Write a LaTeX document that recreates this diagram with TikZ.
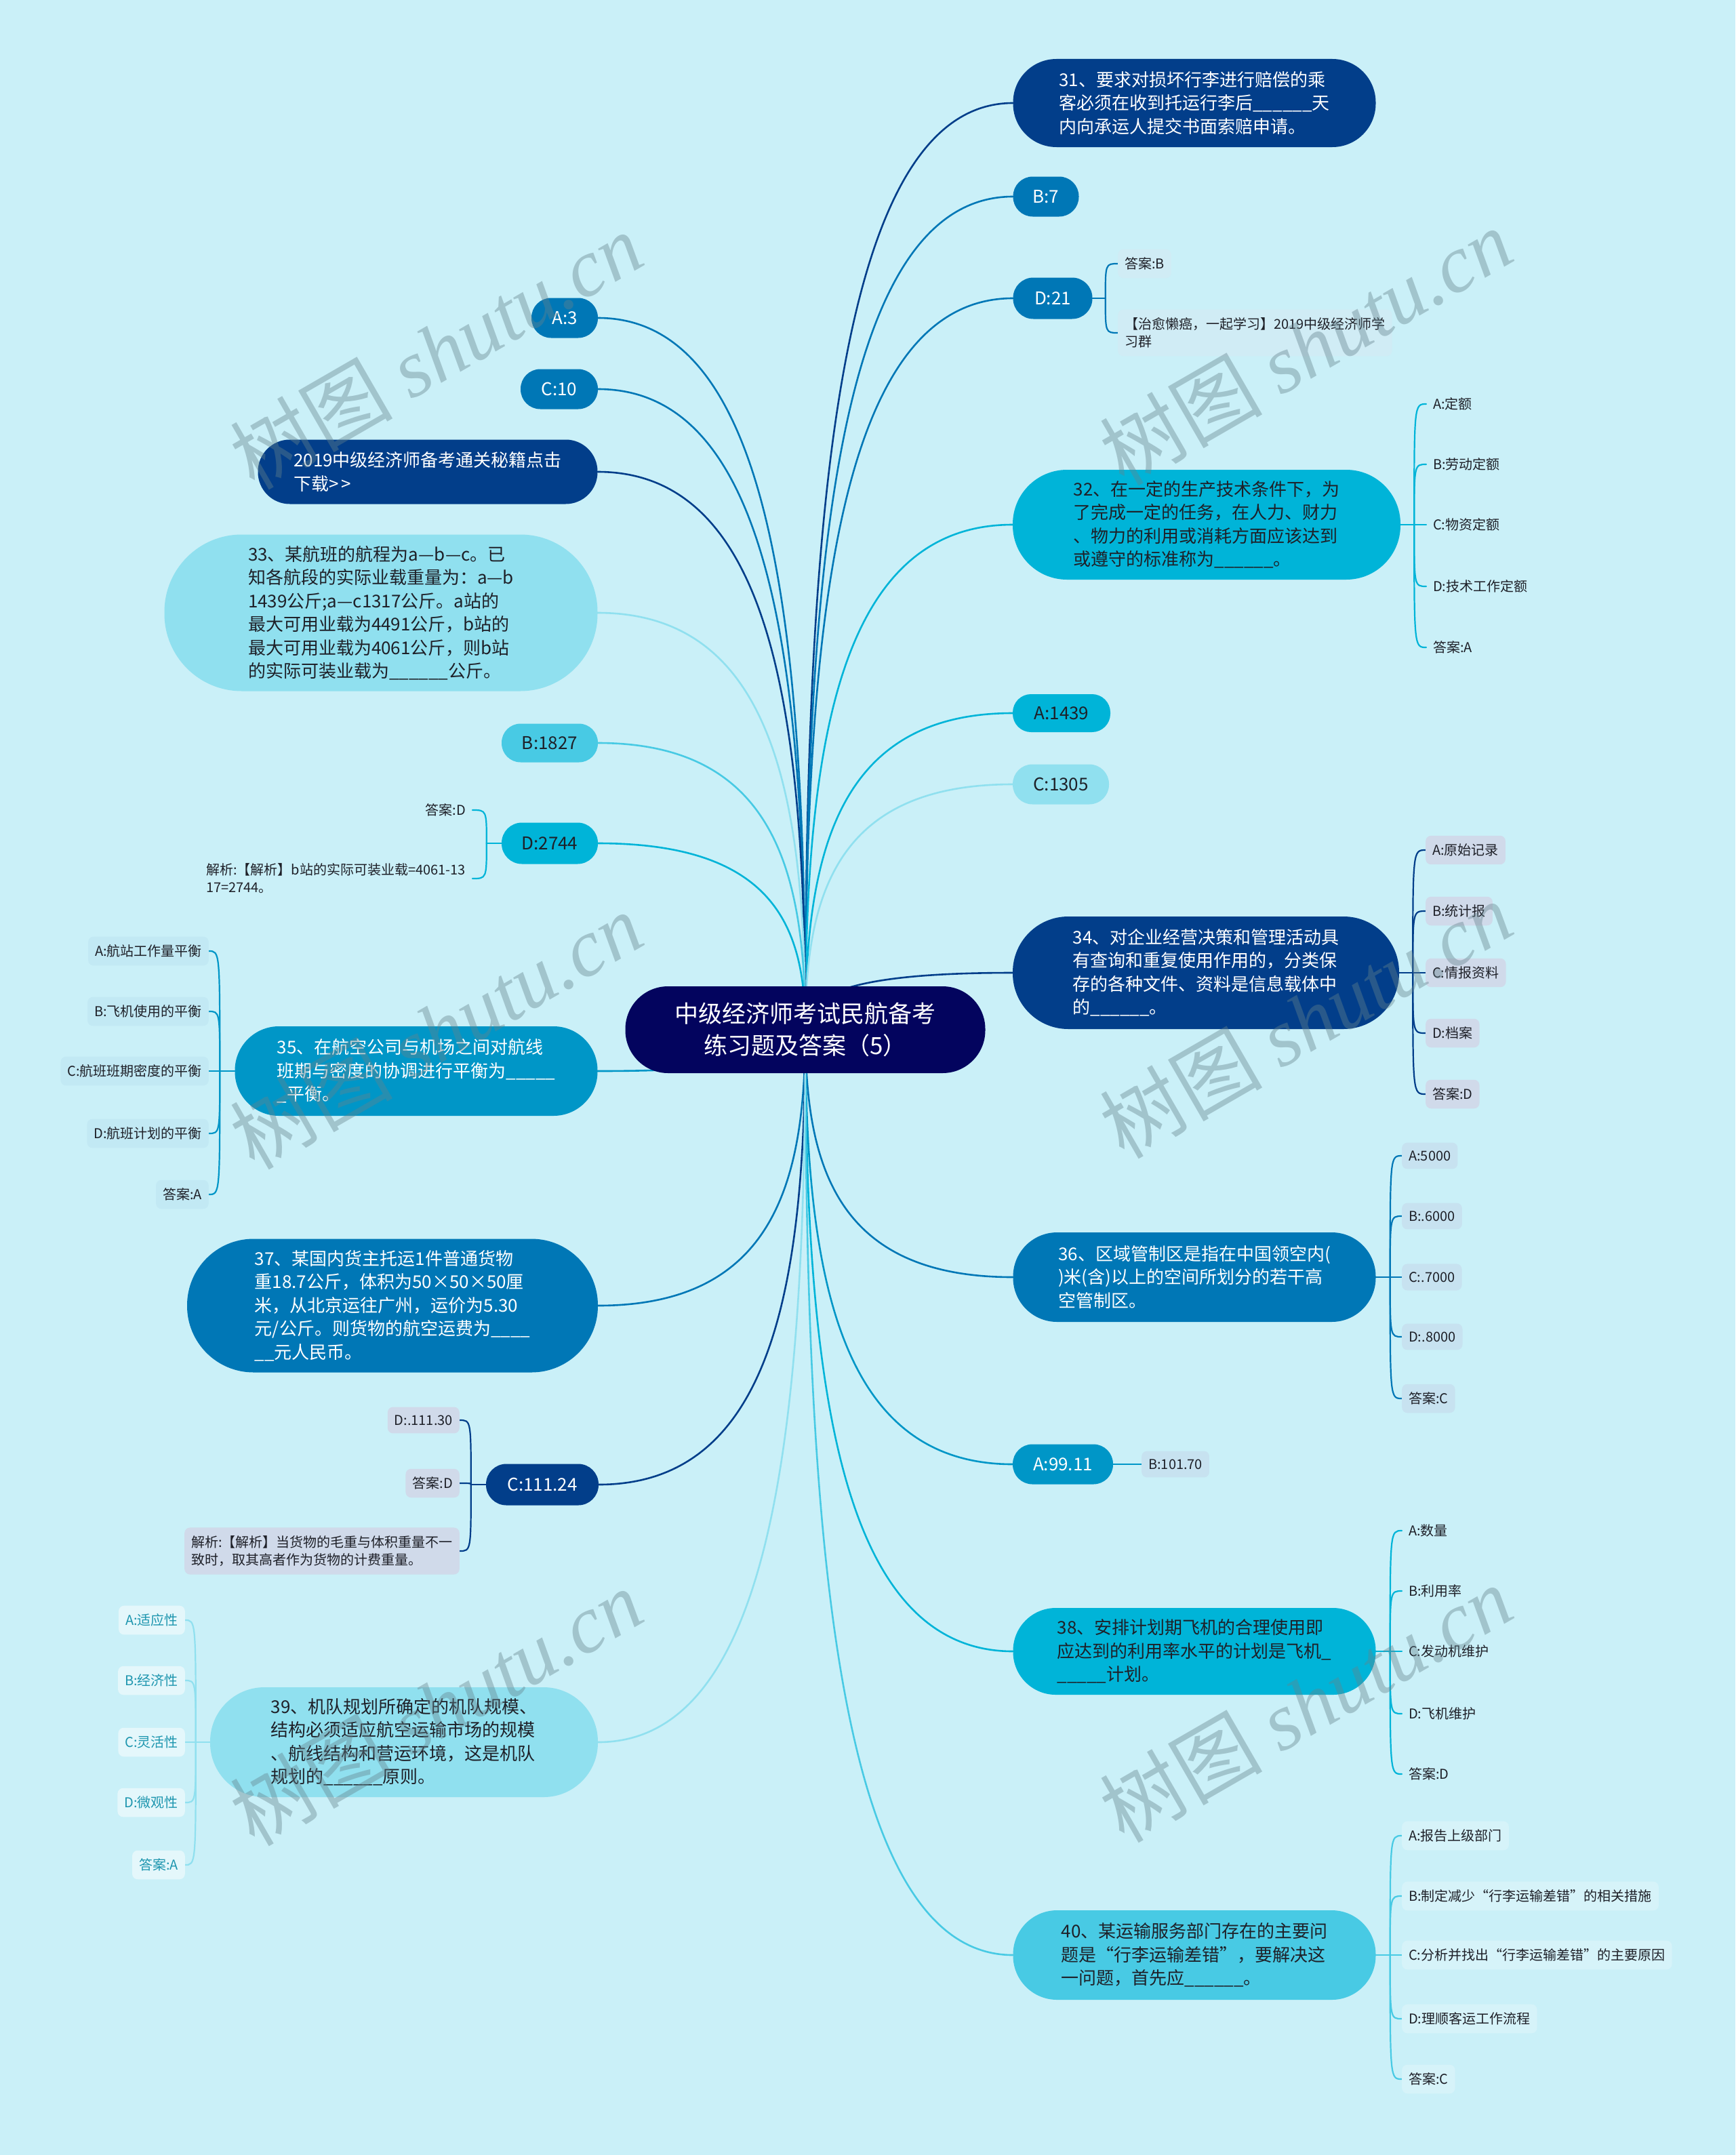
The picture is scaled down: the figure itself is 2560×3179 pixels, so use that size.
\documentclass[tikz,border=0pt]{standalone}
\usepackage{fontspec}
\setmainfont{Noto Sans CJK SC}
\newfontfamily\wmfont{Liberation Serif}
\usetikzlibrary{calc}
\definecolor{bgc}{RGB}{202,240,248}
\definecolor{croot}{RGB}{3,4,94}
\definecolor{cA}{RGB}{2,62,138}
\definecolor{cB}{RGB}{0,119,182}
\definecolor{cC}{RGB}{0,150,199}
\definecolor{cD}{RGB}{0,180,216}
\definecolor{cE}{RGB}{72,202,228}
\definecolor{cF}{RGB}{144,224,239}
\definecolor{dtext}{RGB}{30,32,40}
\definecolor{lbA}{RGB}{208,218,234}
\definecolor{lbB}{RGB}{199,226,240}
\definecolor{lbC}{RGB}{194,233,244}
\definecolor{lbD}{RGB}{214,243,249}
\definecolor{lbE}{RGB}{228,247,251}
\definecolor{lbF}{RGB}{208,236,245}
\definecolor{teal39}{RGB}{30,150,175}
\definecolor{wmc}{RGB}{100,130,140}
\pgfdeclarelayer{background}
\pgfsetlayers{background,main}
\tikzset{
  rootn/.style={rectangle, fill=croot, text=white, align=center, inner sep=0pt,
    minimum width=531pt, minimum height=128pt, rounded corners=63pt,
    font=\fontsize{35}{47}\selectfont},
  big/.style={rectangle, align=left, inner sep=0pt, font=\fontsize{26}{34.5}\selectfont},
  leaf/.style={rectangle, rounded corners=8pt, align=left, inner xsep=10pt, inner ysep=12pt,
    font=\fontsize{20}{26}\selectfont, text=dtext},
  link/.style={line width=2.6pt, line cap=round},
  brk/.style={line width=2.2pt, line cap=round},
  wmark/.style={rotate=30, text=wmc, opacity=0.4, font=\fontsize{120}{120}\selectfont}
}
\newcommand{\rlink}[3]{\draw[link,#1] (root.center) .. controls ($(root.center)!0.55!(root.center |- #2.#3)$) and ($(root.center |- #2.#3)!0.15!(#2.#3)$) .. (#2.#3);}
\newcommand{\rbrk}[3]{\draw[brk,#1] (#2) .. controls (#2 |- #3.west) .. (#3.west);}
\newcommand{\lbrk}[3]{\draw[brk,#1] (#2) .. controls (#2 |- #3.east) .. (#3.east);}
\begin{document}
\begin{tikzpicture}[x=1pt,y=-1pt]
\begin{pgfonlayer}{background}
\fill[bgc] (0,0) rectangle (2560,3179);
\end{pgfonlayer}
\useasboundingbox (0,0) rectangle (2560,3179);

% root
\node[rootn] (root) at (1188,1519) {中级经济师考试民航备考\\练习题及答案（5）};

% right side main nodes
\node[big, fill=cA, text=white, minimum width=535pt, minimum height=130pt, rounded corners=64pt] (n31) at (1762,152) {31、要求对损坏行李进行赔偿的乘\\客必须在收到托运行李后\_\_\_\_\_\_天\\内向承运人提交书面索赔申请。};
\node[big, align=center, fill=cB, text=white, minimum width=97pt, minimum height=59pt, rounded corners=29pt] (nB7) at (1543,290) {B:7};
\node[big, align=center, fill=cB, text=white, minimum width=117pt, minimum height=61pt, rounded corners=30pt] (nD21) at (1553,440) {D:21};
\node[big, fill=cD, text=dtext, minimum width=572pt, minimum height=162pt, rounded corners=80pt] (n32) at (1780,774) {32、在一定的生产技术条件下，为\\了完成一定的任务，在人力、财力\\、物力的利用或消耗方面应该达到\\或遵守的标准称为\_\_\_\_\_\_。};
\node[big, align=center, fill=cD, text=dtext, minimum width=144pt, minimum height=56pt, rounded corners=27pt] (nA1439) at (1566,1052) {A:1439};
\node[big, align=center, fill=cF, text=dtext, minimum width=142pt, minimum height=59pt, rounded corners=29pt] (nC1305) at (1565,1157) {C:1305};
\node[big, fill=cA, text=white, minimum width=570pt, minimum height=166pt, rounded corners=82pt] (n34) at (1779,1435) {34、对企业经营决策和管理活动具\\有查询和重复使用作用的，分类保\\存的各种文件、资料是信息载体中\\的\_\_\_\_\_\_。};
\node[big, fill=cB, text=white, minimum width=535pt, minimum height=132pt, rounded corners=65pt] (n36) at (1762,1884) {36、区域管制区是指在中国领空内(\\)米(含)以上的空间所划分的若干高\\空管制区。};
\node[big, align=center, fill=cC, text=white, minimum width=148pt, minimum height=59pt, rounded corners=29pt] (nA9911) at (1568,2160) {A:99.11};
\node[big, fill=cD, text=dtext, minimum width=535pt, minimum height=128pt, rounded corners=63pt] (n38) at (1762,2436) {38、安排计划期飞机的合理使用即\\应达到的利用率水平的计划是飞机\_\\\_\_\_\_\_计划。};
\node[big, fill=cE, text=dtext, minimum width=535pt, minimum height=132pt, rounded corners=65pt] (n40) at (1762,2884) {40、某运输服务部门存在的主要问\\题是“行李运输差错”，要解决这\\一问题，首先应\_\_\_\_\_\_。};

% left side main nodes
\node[big, align=center, fill=cB, text=white, minimum width=98pt, minimum height=59pt, rounded corners=29pt] (nA3) at (833,469) {A:3};
\node[big, align=center, fill=cB, text=white, minimum width=114pt, minimum height=59pt, rounded corners=29pt] (nC10) at (825,574) {C:10};
\node[big, fill=cA, text=white, minimum width=501pt, minimum height=95pt, rounded corners=47pt] (n2019) at (631,696) {2019中级经济师备考通关秘籍点击\\下载>{}\,>};
\node[big, fill=cF, text=dtext, minimum width=639pt, minimum height=231pt, rounded corners=114pt] (n33) at (562,904) {33、某航班的航程为a—b—c。已\\知各航段的实际业载重量为：a—b\\1439公斤;a—c1317公斤。a站的\\最大可用业载为4491公斤，b站的\\最大可用业载为4061公斤，则b站\\的实际可装业载为\_\_\_\_\_\_公斤。};
\node[big, align=center, fill=cE, text=dtext, minimum width=142pt, minimum height=57pt, rounded corners=28pt] (nB1827) at (811,1096) {B:1827};
\node[big, align=center, fill=cD, text=dtext, minimum width=142pt, minimum height=61pt, rounded corners=30pt] (nD2744) at (811,1244) {D:2744};
\node[big, fill=cC, text=white, minimum width=535pt, minimum height=132pt, rounded corners=65pt] (n35) at (614,1580) {35、在航空公司与机场之间对航线\\班期与密度的协调进行平衡为\_\_\_\_\_\\\_平衡。};
\node[big, fill=cB, text=white, minimum width=606pt, minimum height=197pt, rounded corners=98pt] (n37) at (579,1926) {37、某国内货主托运1件普通货物\\重18.7公斤，体积为50×50×50厘\\米，从北京运往广州，运价为5.30\\元/公斤。则货物的航空运费为\_\_\_\_\\\_\_元人民币。};
\node[big, align=center, fill=cA, text=white, minimum width=166pt, minimum height=61pt, rounded corners=30pt] (nC11124) at (800,2190) {C:111.24};
\node[big, fill=cF, text=dtext, minimum width=572pt, minimum height=162pt, rounded corners=80pt] (n39) at (596,2570) {39、机队规划所确定的机队规模、\\结构必须适应航空运输市场的规模\\、航线结构和营运环境，这是机队\\规划的\_\_\_\_\_\_原则。};

% leaves right
\node[leaf, fill=lbF, anchor=west] (l21a) at (1649,389) {答案:B};
\node[leaf, fill=lbF, anchor=west] (l21b) at (1649,491) {【治愈懒癌，一起学习】2019中级经济师学\\习群};

\node[leaf, anchor=west] (l32a) at (2104,596) {A:定额};
\node[leaf, anchor=west] (l32b) at (2104,685) {B:劳动定额};
\node[leaf, anchor=west] (l32c) at (2104,774) {C:物资定额};
\node[leaf, anchor=west] (l32d) at (2104,865) {D:技术工作定额};
\node[leaf, anchor=west] (l32e) at (2104,955) {答案:A};

\node[leaf, fill=lbA, anchor=west] (l34a) at (2103,1254) {A:原始记录};
\node[leaf, fill=lbA, anchor=west] (l34b) at (2103,1344) {B:统计报};
\node[leaf, fill=lbA, anchor=west] (l34c) at (2103,1435) {C:情报资料};
\node[leaf, fill=lbA, anchor=west] (l34d) at (2103,1524) {D:档案};
\node[leaf, fill=lbA, anchor=west] (l34e) at (2103,1614) {答案:D};

\node[leaf, fill=lbB, anchor=west] (l36a) at (2068,1705) {A:5000};
\node[leaf, fill=lbB, anchor=west] (l36b) at (2068,1794) {B:.6000};
\node[leaf, fill=lbB, anchor=west] (l36c) at (2068,1884) {C:.7000};
\node[leaf, fill=lbB, anchor=west] (l36d) at (2068,1972) {D:.8000};
\node[leaf, fill=lbB, anchor=west] (l36e) at (2068,2063) {答案:C};

\node[leaf, fill=lbB, anchor=west] (l99) at (1684,2160) {B:101.70};

\node[leaf, anchor=west] (l38a) at (2068,2258) {A:数量};
\node[leaf, anchor=west] (l38b) at (2068,2347) {B:利用率};
\node[leaf, anchor=west] (l38c) at (2068,2436) {C:发动机维护};
\node[leaf, anchor=west] (l38d) at (2068,2528) {D:飞机维护};
\node[leaf, anchor=west] (l38e) at (2068,2617) {答案:D};

\node[leaf, fill=lbD, anchor=west] (l40a) at (2068,2708) {A:报告上级部门};
\node[leaf, fill=lbD, anchor=west] (l40b) at (2068,2797) {B:制定减少“行李运输差错”的相关措施};
\node[leaf, fill=lbD, anchor=west] (l40c) at (2068,2884) {C:分析并找出“行李运输差错”的主要原因};
\node[leaf, fill=lbD, anchor=west] (l40d) at (2068,2978) {D:理顺客运工作流程};
\node[leaf, fill=lbD, anchor=west] (l40e) at (2068,3067) {答案:C};

% leaves left
\node[leaf, anchor=east] (l2744a) at (697,1195) {答案:D};
\node[leaf, anchor=east] (l2744b) at (697,1296) {解析:【解析】b站的实际可装业载=4061-13\\17=2744。};

\node[leaf, fill=lbC, anchor=east] (l35a) at (308,1403) {A:航站工作量平衡};
\node[leaf, fill=lbC, anchor=east] (l35b) at (308,1492) {B:飞机使用的平衡};
\node[leaf, fill=lbC, anchor=east] (l35c) at (308,1580) {C:航班班期密度的平衡};
\node[leaf, fill=lbC, anchor=east] (l35d) at (308,1672) {D:航班计划的平衡};
\node[leaf, fill=lbC, anchor=east] (l35e) at (308,1762) {答案:A};

\node[leaf, fill=lbA, anchor=east] (l111a) at (678,2095) {D:.111.30};
\node[leaf, fill=lbA, anchor=east] (l111b) at (678,2188) {答案:D};
\node[leaf, fill=lbA, anchor=east] (l111c) at (678,2288) {解析:【解析】当货物的毛重与体积重量不一\\致时，取其高者作为货物的计费重量。};

\node[leaf, fill=lbE, text=teal39, anchor=east] (l39a) at (273,2390) {A:适应性};
\node[leaf, fill=lbE, text=teal39, anchor=east] (l39b) at (273,2479) {B:经济性};
\node[leaf, fill=lbE, text=teal39, anchor=east] (l39c) at (273,2570) {C:灵活性};
\node[leaf, fill=lbE, text=teal39, anchor=east] (l39d) at (273,2659) {D:微观性};
\node[leaf, fill=lbE, text=teal39, anchor=east] (l39e) at (273,2751) {答案:A};

% junctions
\coordinate (j21) at ($(nD21.east)+(19,0)$);
\coordinate (j32) at ($(n32.east)+(20,0)$);
\coordinate (j34) at ($(n34.east)+(20,0)$);
\coordinate (j36) at ($(n36.east)+(21,0)$);
\coordinate (j38) at ($(n38.east)+(21,0)$);
\coordinate (j40) at ($(n40.east)+(21,0)$);
\coordinate (j2744) at ($(nD2744.west)+(-22,0)$);
\coordinate (j35) at ($(n35.west)+(-22,0)$);
\coordinate (j111) at ($(nC11124.west)+(-22,0)$);
\coordinate (j39) at ($(n39.west)+(-21,0)$);

\begin{pgfonlayer}{background}
% root links
\rlink{cA}{n31}{west}
\rlink{cB}{nB7}{west}
\rlink{cB}{nD21}{west}
\rlink{cD}{n32}{west}
\rlink{cD}{nA1439}{west}
\rlink{cF}{nC1305}{west}
\rlink{cA}{n34}{west}
\rlink{cB}{n36}{west}
\rlink{cC}{nA9911}{west}
\rlink{cD}{n38}{west}
\rlink{cE}{n40}{west}
\rlink{cB}{nA3}{east}
\rlink{cB}{nC10}{east}
\rlink{cA}{n2019}{east}
\rlink{cF}{n33}{east}
\rlink{cE}{nB1827}{east}
\rlink{cD}{nD2744}{east}
\rlink{cC}{n35}{east}
\rlink{cB}{n37}{east}
\rlink{cA}{nC11124}{east}
\rlink{cF}{n39}{east}
% brackets right
\draw[brk,cB] (nD21.east) -- (j21);
\rbrk{cB}{j21}{l21a} \rbrk{cB}{j21}{l21b}
\draw[brk,cD] (n32.east) -- (j32);
\rbrk{cD}{j32}{l32a} \rbrk{cD}{j32}{l32b} \rbrk{cD}{j32}{l32c} \rbrk{cD}{j32}{l32d} \rbrk{cD}{j32}{l32e}
\draw[brk,cA] (n34.east) -- (j34);
\rbrk{cA}{j34}{l34a} \rbrk{cA}{j34}{l34b} \rbrk{cA}{j34}{l34c} \rbrk{cA}{j34}{l34d} \rbrk{cA}{j34}{l34e}
\draw[brk,cB] (n36.east) -- (j36);
\rbrk{cB}{j36}{l36a} \rbrk{cB}{j36}{l36b} \rbrk{cB}{j36}{l36c} \rbrk{cB}{j36}{l36d} \rbrk{cB}{j36}{l36e}
\draw[brk,cC] (nA9911.east) -- (l99.west);
\draw[brk,cD] (n38.east) -- (j38);
\rbrk{cD}{j38}{l38a} \rbrk{cD}{j38}{l38b} \rbrk{cD}{j38}{l38c} \rbrk{cD}{j38}{l38d} \rbrk{cD}{j38}{l38e}
\draw[brk,cE] (n40.east) -- (j40);
\rbrk{cE}{j40}{l40a} \rbrk{cE}{j40}{l40b} \rbrk{cE}{j40}{l40c} \rbrk{cE}{j40}{l40d} \rbrk{cE}{j40}{l40e}
% brackets left
\draw[brk,cD] (nD2744.west) -- (j2744);
\lbrk{cD}{j2744}{l2744a} \lbrk{cD}{j2744}{l2744b}
\draw[brk,cC] (n35.west) -- (j35);
\lbrk{cC}{j35}{l35a} \lbrk{cC}{j35}{l35b} \lbrk{cC}{j35}{l35c} \lbrk{cC}{j35}{l35d} \lbrk{cC}{j35}{l35e}
\draw[brk,cA] (nC11124.west) -- (j111);
\lbrk{cA}{j111}{l111a} \lbrk{cA}{j111}{l111b} \lbrk{cA}{j111}{l111c}
\draw[brk,cF] (n39.west) -- (j39);
\lbrk{cF}{j39}{l39a} \lbrk{cF}{j39}{l39b} \lbrk{cF}{j39}{l39c} \lbrk{cF}{j39}{l39d} \lbrk{cF}{j39}{l39e}
\end{pgfonlayer}

% watermarks
\node[wmark] (wm1) at (643,517) {树图 {\wmfont\itshape shutu.cn}};
\node[wmark] (wm2) at (1926,511) {树图 {\wmfont\itshape shutu.cn}};
\node[wmark] (wm3) at (643,1520) {树图 {\wmfont\itshape shutu.cn}};
\node[wmark] (wm4) at (1926,1504) {树图 {\wmfont\itshape shutu.cn}};
\node[wmark] (wm5) at (643,2518) {树图 {\wmfont\itshape shutu.cn}};
\node[wmark] (wm6) at (1926,2513) {树图 {\wmfont\itshape shutu.cn}};
\end{tikzpicture}
\end{document}
